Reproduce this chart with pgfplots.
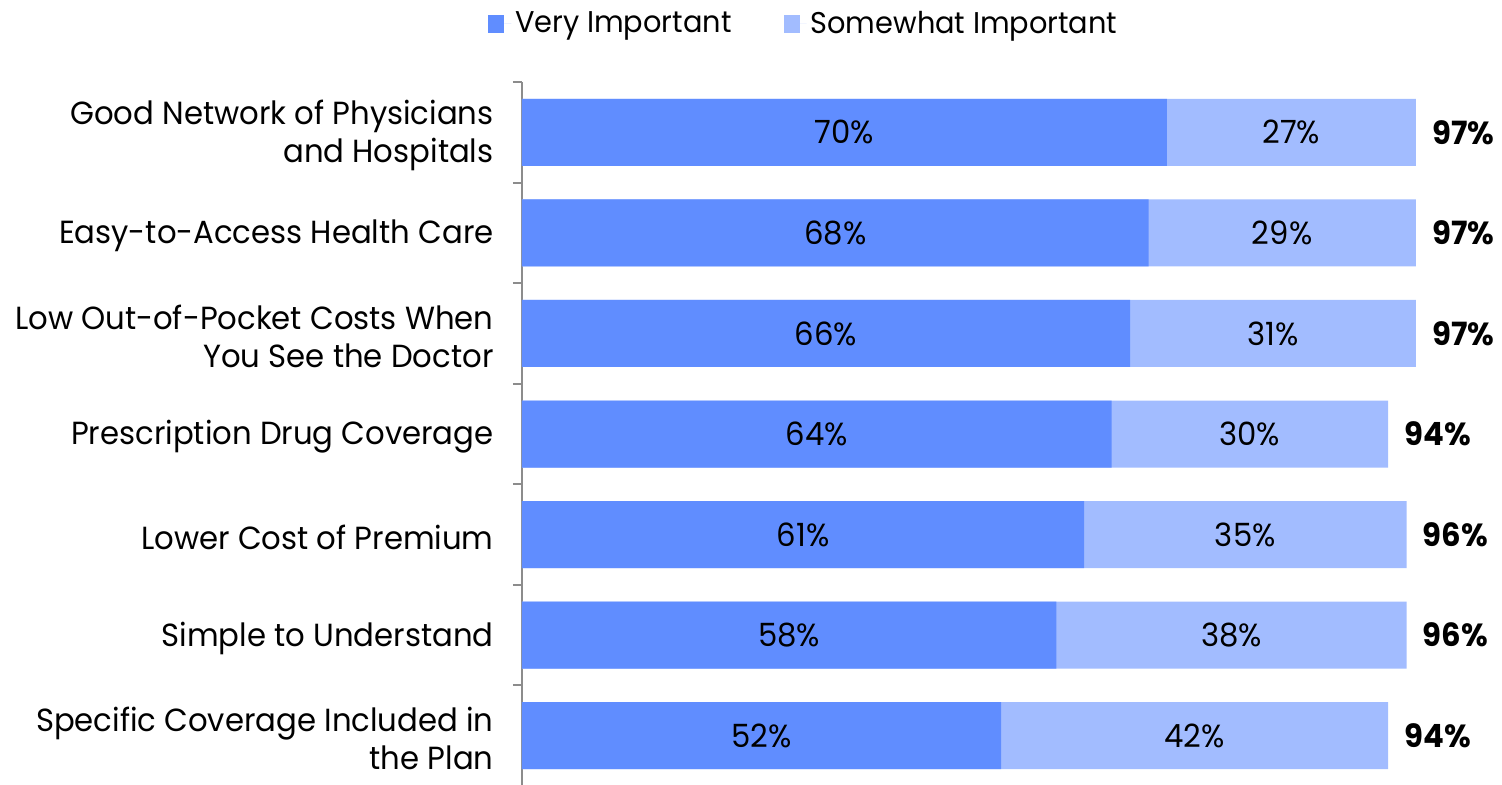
\documentclass[border=0pt]{standalone}
\usepackage{fontspec}
\setmainfont{Poppins}[FakeStretch=0.96]
\usepackage{pgfplots}
\usepackage{pgfplotstable}
\pgfplotsset{compat=1.18}
\definecolor{vimp}{HTML}{608DFF}
\definecolor{simp}{HTML}{A2BCFF}
\definecolor{axgray}{HTML}{8C8C8C}
\pgfplotstableread{
idx very some total
0 70 27 97
1 68 29 97
2 66 31 97
3 64 30 94
4 61 35 96
5 58 38 96
6 52 42 94
}\datatab
\begin{document}
\begin{tikzpicture}[font=\fontsize{16pt}{19pt}\selectfont]
\begin{axis}[
  scale only axis,
  width=460.7pt, height=352pt,
  xmin=0, xmax=100,
  ymin=-0.5, ymax=6.5,
  y dir=reverse,
  axis x line=none,
  axis y line*=left,
  axis line style={axgray, line width=1pt},
  ytick={0,...,6},
  yticklabels={{Good Network of Physicians\\and Hospitals},
               {Easy-to-Access Health Care},
               {Low Out-of-Pocket Costs When\\You See the Doctor},
               {Prescription Drug Coverage},
               {Lower Cost of Premium},
               {Simple to Understand},
               {Specific Coverage Included in\\the Plan}},
  yticklabel style={align=right, anchor=east, inner sep=0pt, xshift=-14pt, yshift=-1.5pt},
  minor ytick={-0.5,0.5,...,6.5},
  major tick length=0pt,
  minor tick length=4.5pt,
  tick align=outside,
  minor tick style={axgray, line width=1pt},
  clip=false,
  legend columns=2,
  legend style={draw=none, at={(-0.037,1.107)}, anchor=north west,
     font=\fontsize{15pt}{18pt}\selectfont,
     /tikz/every even column/.append style={column sep=24pt},
     inner sep=0pt},
  legend image code/.code={\fill[#1] (0pt,-4.5pt) rectangle (8pt,4.5pt);
     \path (8pt,0pt) -- (11.5pt,0pt);},
]
\addlegendimage{fill=vimp, draw=none}
\addlegendentry{Very Important}
\addlegendimage{fill=simp, draw=none}
\addlegendentry{Somewhat Important}
\addplot[xbar, bar width=33.5pt, bar shift=0pt, fill=simp, draw=none, forget plot]
  table[x=total, y=idx] {\datatab};
\addplot[xbar, bar width=33.5pt, bar shift=0pt, fill=vimp, draw=none, forget plot]
  table[x=very, y=idx] {\datatab};
\addplot[draw=none, mark=none, forget plot, point meta=explicit symbolic,
  nodes near coords={\pgfplotspointmeta\%},
  every node near coord/.style={anchor=center, text=black}]
  table[x expr=\thisrow{very}/2, y=idx, meta=very] {\datatab};
\addplot[draw=none, mark=none, forget plot, point meta=explicit symbolic,
  nodes near coords={\pgfplotspointmeta\%},
  every node near coord/.style={anchor=center, text=black}]
  table[x expr=\thisrow{very}+\thisrow{some}/2, y=idx, meta=some] {\datatab};
\addplot[draw=none, mark=none, forget plot, point meta=explicit symbolic,
  nodes near coords={\textbf{\pgfplotspointmeta\%}},
  every node near coord/.style={anchor=west, text=black, inner sep=0pt, xshift=8pt}]
  table[x=total, y=idx, meta=total] {\datatab};
\end{axis}
\pgfresetboundingbox
\path (-261pt,1pt) rectangle (490pt,393pt);
\end{tikzpicture}
\end{document}
